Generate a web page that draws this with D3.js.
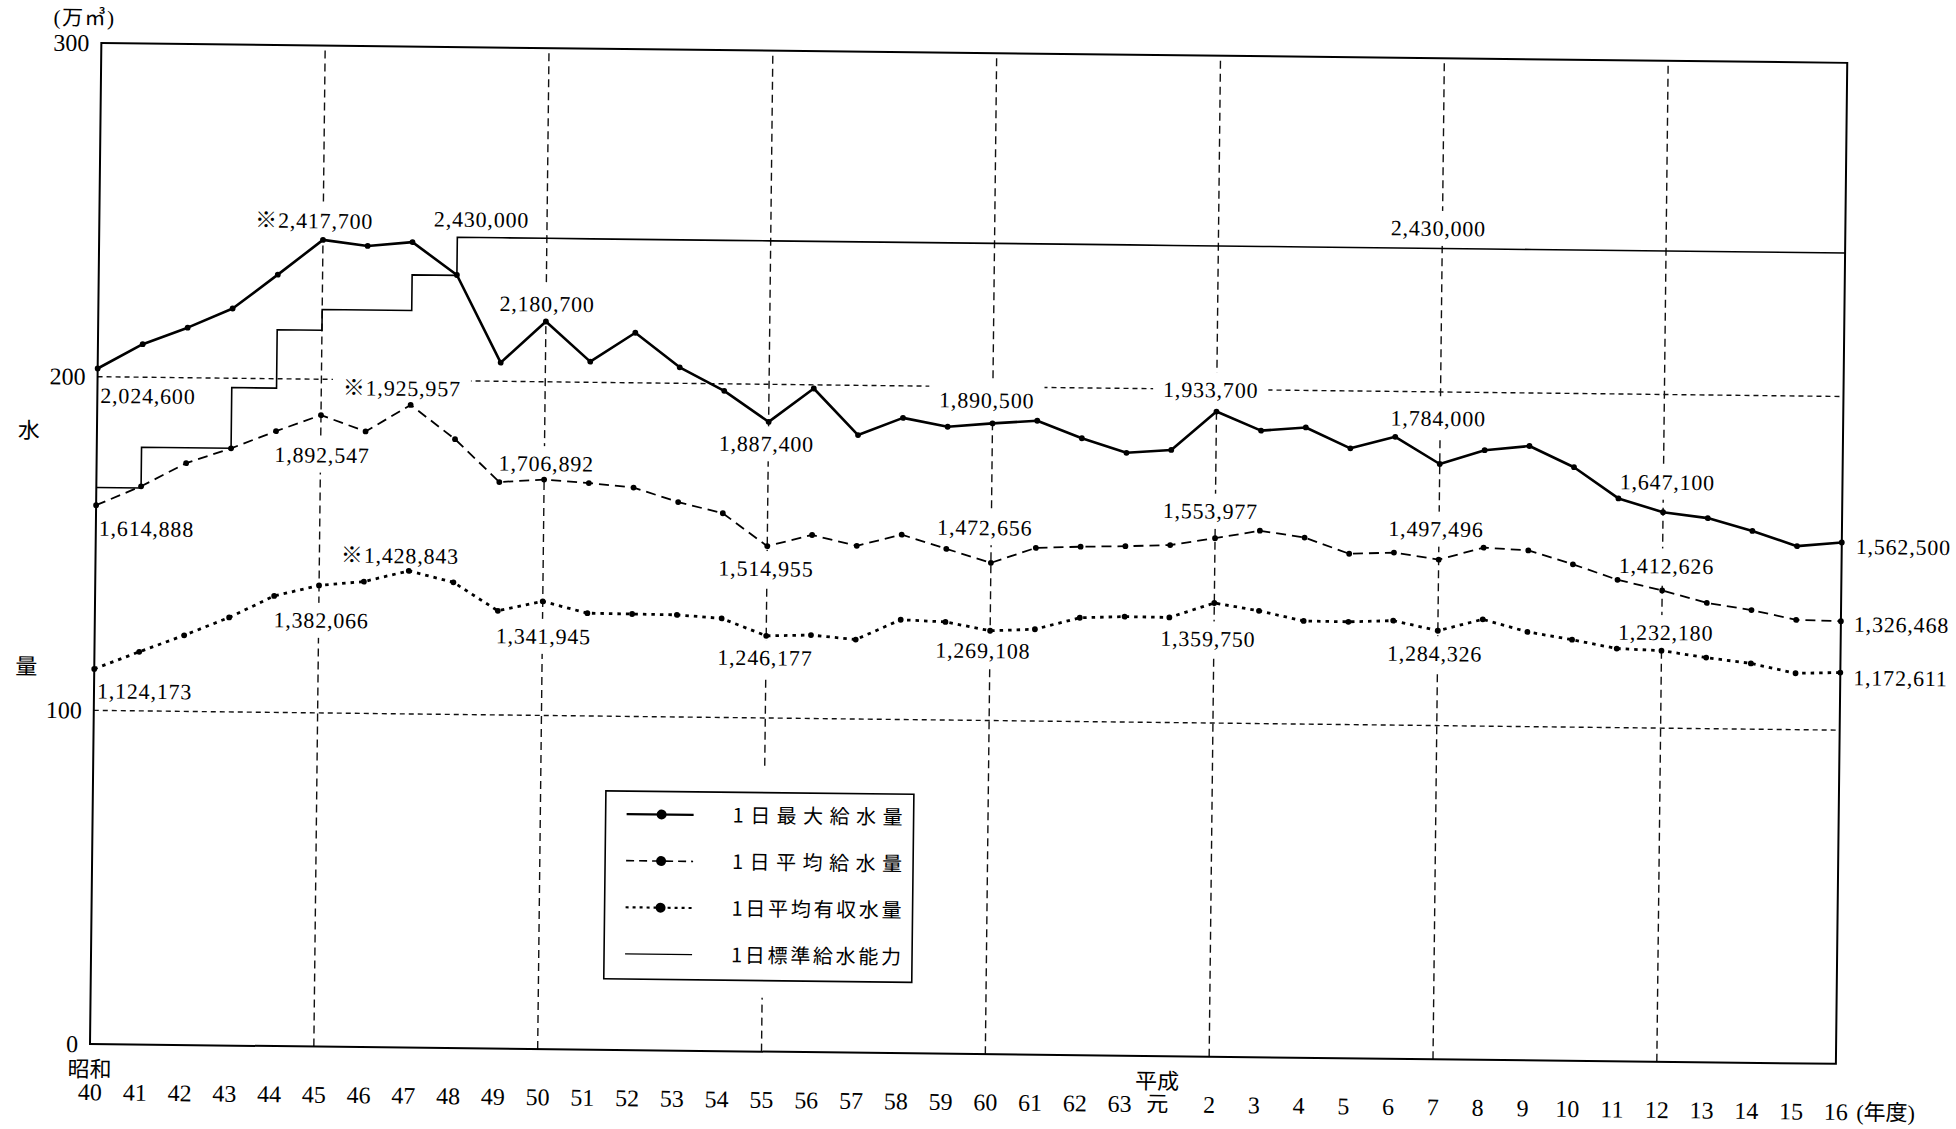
<!DOCTYPE html>
<html>
<head>
<meta charset="utf-8">
<script src="https://cdn.jsdelivr.net/npm/d3@7"></script>
<style>
  html, body { margin: 0; padding: 0; background: #fff; }
  svg { display: block; }
</style>
</head>
<body>
<svg id="chart" width="1956" height="1129"></svg>
<script>
// ---------------- DATA ----------------
const years = ["40","41","42","43","44","45","46","47","48","49",
               "50","51","52","53","54","55","56","57","58","59",
               "60","61","62","63","元","2","3","4","5","6",
               "7","8","9","10","11","12","13","14","15","16"];
const eras = [{year: "40", text: "昭和"}, {year: "元", text: "平成"}];
const yTicks = [0, 100, 200, 300];
const gridValues = [100, 200];
const gridYears = ["45", "50", "55", "60", "2", "7", "12"];

// 万㎥ per day
const maxSupply = [202.46, 209.9, 215.0, 220.9, 231.2, 241.77, 240.1, 241.4, 231.7, 205.6,
                   218.07, 206.2, 215.0, 204.8, 197.9, 188.74, 198.9, 185.1, 190.4, 187.9,
                   189.05, 190.0, 184.9, 180.7, 181.7, 193.37, 187.8, 188.9, 182.8, 186.4,
                   178.40, 182.7, 184.1, 177.9, 168.7, 164.71, 163.1, 159.4, 155.0, 156.25];
const avgSupply = [161.49, 167.3, 174.4, 179.0, 184.3, 189.25, 184.5, 192.60, 182.5, 169.8,
                   170.69, 169.8, 168.6, 164.4, 161.2, 151.50, 155.0, 151.9, 155.4, 151.3,
                   147.27, 151.9, 152.4, 152.7, 153.2, 155.40, 157.8, 155.9, 151.2, 151.7,
                   149.75, 153.5, 152.8, 148.8, 144.3, 141.26, 137.7, 135.7, 132.9, 132.65];
const avgRevenue = [112.42, 117.7, 122.8, 128.3, 134.9, 138.21, 139.5, 142.88, 139.6, 131.2,
                    134.19, 130.8, 130.7, 130.6, 129.7, 124.62, 125.0, 123.8, 129.9, 129.4,
                    126.91, 127.5, 131.1, 131.6, 131.5, 135.98, 133.8, 130.9, 130.8, 131.3,
                    128.43, 132.0, 128.4, 126.2, 123.7, 123.22, 121.3, 119.7, 116.9, 117.26];
const capacity = [166.8, 179.0, 179.0, 197.2, 214.7, 220.9, 220.9, 231.6, 243, 243,
                  243, 243, 243, 243, 243, 243, 243, 243, 243, 243,
                  243, 243, 243, 243, 243, 243, 243, 243, 243, 243,
                  243, 243, 243, 243, 243, 243, 243, 243, 243, 243];

// annotated values (㎥)
const maxLabels = [{year:"40", value:2024600}, {year:"45", value:2417700, mark:"※"}, {year:"50", value:2180700},
                   {year:"55", value:1887400}, {year:"60", value:1890500}, {year:"2", value:1933700},
                   {year:"7", value:1784000}, {year:"12", value:1647100}, {year:"16", value:1562500}];
const avgLabels = [{year:"40", value:1614888}, {year:"45", value:1892547}, {year:"47", value:1925957, mark:"※"},
                   {year:"50", value:1706892}, {year:"55", value:1514955}, {year:"60", value:1472656},
                   {year:"2", value:1553977}, {year:"7", value:1497496}, {year:"12", value:1412626},
                   {year:"16", value:1326468}];
const revLabels = [{year:"40", value:1124173}, {year:"45", value:1382066}, {year:"47", value:1428843, mark:"※"},
                   {year:"50", value:1341945}, {year:"55", value:1246177}, {year:"60", value:1269108},
                   {year:"2", value:1359750}, {year:"7", value:1284326}, {year:"12", value:1232180},
                   {year:"16", value:1172611}];
const capLabels = [{year:"48", value:2430000}, {year:"7", value:2430000}];

const legendItems = ["1日最大給水量", "1日平均給水量", "1日平均有収水量", "1日標準給水能力"];
const unitText = "(万㎥)";
const yTitle = ["水", "量"];
const xUnitText = "(年度)";

// ---------------- LAYOUT / STYLE ----------------
const W = 1956, H = 1129;
const M = {left: 90, right: 1836, top: 43, bottom: 1044};
const ROT = 0.65;
const NUM_FONT = '"Liberation Serif", "DejaVu Serif", serif';
const MIX_FONT = '"Liberation Serif", "Noto Sans CJK JP", "Noto Sans CJK SC", serif';
const CJK_FONT = '"Noto Sans CJK JP", "Noto Sans CJK SC", sans-serif';

// label placement: [anchor, dx, dy] relative to the point
const layout = {
  max: {"40":["start",3,27], "45":["middle",-9,-19], "50":["middle",1,-17.5], "55":["middle",-2,22],
        "60":["middle",-6,-23], "2":["middle",-6,-21.5], "7":["middle",-2,-45.5], "12":["middle",4,-30],
        "16":["start",14,4]},
  avg: {"40":["start",3,23], "45":["middle",1.5,40], "47":["middle",-9,-16.5], "50":["middle",2,-16],
        "55":["middle",-1,22.5], "60":["middle",-6.5,-35], "2":["middle",-5,-27], "7":["middle",-3,-30.5],
        "12":["middle",4,-24.5], "16":["start",13,3]},
  rev: {"40":["start",3,22], "45":["middle",2.5,35], "47":["middle",-9,-15], "50":["middle",1,35],
        "55":["middle",-1,22], "60":["middle",-7,20], "2":["middle",-6,36], "7":["middle",-3,23],
        "12":["middle",4,-18], "16":["start",13,5]},
  cap: {"48":["middle",24,-18], "7":["middle",-4,-20]}
};

const styles = {
  max: {width: 2.6, dash: null},
  avg: {width: 1.8, dash: "10,6"},
  rev: {width: 2.8, dash: "3.5,5"},
  cap: {width: 1.6, dash: null}
};

// ---------------- DRAW ----------------
const svg = d3.select("#chart");
svg.append("rect").attr("width", W).attr("height", H).attr("fill", "#fff");
const g = svg.append("g").attr("transform", `rotate(${ROT},${M.left},${M.bottom})`);

const x = d3.scalePoint().domain(years).range([M.left, M.right]);
const y = d3.scaleLinear().domain([0, 300]).range([M.bottom, M.top]);

// grid
const gGrid = g.append("g");
gGrid.selectAll("line.gh").data(gridValues).join("line").attr("class", "gh")
  .attr("x1", M.left).attr("x2", M.right).attr("y1", d => y(d)).attr("y2", d => y(d))
  .attr("stroke", "#111").attr("stroke-width", 1.4).attr("stroke-dasharray", "5,4");
gGrid.selectAll("line.gv").data(gridYears).join("line").attr("class", "gv")
  .attr("x1", d => x(d)).attr("x2", d => x(d)).attr("y1", M.bottom).attr("y2", M.top)
  .attr("stroke", "#111").attr("stroke-width", 1.4).attr("stroke-dasharray", "8,5");

const gMask = g.append("g");

// frame
g.append("rect").attr("x", M.left).attr("y", M.top)
  .attr("width", M.right - M.left).attr("height", M.bottom - M.top)
  .attr("fill", "none").attr("stroke", "#000").attr("stroke-width", 2);

// axes
const yAxis = d3.axisLeft(y).tickValues(yTicks).tickSize(0).tickPadding(12).tickFormat(d3.format("d"));
const gy = g.append("g").attr("transform", `translate(${M.left},0)`).call(yAxis);
gy.select(".domain").remove();
gy.selectAll("text").style("font-family", NUM_FONT).style("font-size", "24px").attr("fill", "#000");

const xAxis = d3.axisBottom(x).tickSize(0);
const gx = g.append("g").attr("transform", `translate(0,${M.bottom})`).call(xAxis);
gx.select(".domain").remove();
gx.selectAll("text")
  .attr("x", d => d === "元" ? -7 : 0)
  .attr("y", 48).attr("dy", "0.34em")
  .style("font-family", MIX_FONT)
  .style("font-size", d => d === "元" ? "22px" : "24px")
  .attr("fill", "#000");

g.selectAll("text.era").data(eras).join("text").attr("class", "era")
  .attr("x", d => x(d.year) + (d.year === "元" ? -7 : 0)).attr("y", M.bottom + 25).attr("dy", "0.36em")
  .attr("text-anchor", "middle").style("font-family", MIX_FONT).style("font-size", "22px")
  .text(d => d.text);

g.append("text").attr("x", x(years[years.length - 1]) + 21).attr("y", M.bottom + 48).attr("dy", "0.36em")
  .style("font-family", MIX_FONT).style("font-size", "22px").text(xUnitText);

g.append("text").attr("x", 42).attr("y", 17.5).attr("dy", "0.36em")
  .style("font-family", MIX_FONT).style("font-size", "21px").style("letter-spacing", "1.5px").text(unitText);

g.selectAll("text.ytitle").data(yTitle).join("text").attr("class", "ytitle")
  .attr("x", 22).attr("y", (d, i) => i === 0 ? 431 : 667).attr("dy", "0.36em")
  .attr("text-anchor", "middle").style("font-family", MIX_FONT).style("font-size", "22px")
  .text(d => d);

// series
const line = d3.line().x((d, i) => x(years[i])).y(d => y(d));
const stepLine = d3.line().x((d, i) => x(years[i])).y(d => y(d)).curve(d3.curveStepAfter);
const gLines = g.append("g").attr("fill", "none").attr("stroke", "#000");

gLines.append("path").datum(capacity).attr("d", stepLine)
  .attr("stroke-width", styles.cap.width);

const series = [
  {key: "max", values: maxSupply, labels: maxLabels},
  {key: "avg", values: avgSupply, labels: avgLabels},
  {key: "rev", values: avgRevenue, labels: revLabels}
];
series.forEach(s => {
  gLines.append("path").datum(s.values).attr("d", line)
    .attr("stroke-width", styles[s.key].width)
    .attr("stroke-dasharray", styles[s.key].dash)
    .attr("stroke-linejoin", "round");
  g.append("g").selectAll("circle").data(s.values).join("circle")
    .attr("cx", (d, i) => x(years[i])).attr("cy", d => y(d)).attr("r", 2.9).attr("fill", "#000");
});

// value labels
const fmt = d3.format(",");
const gLabels = g.append("g");
function addLabels(key, labels, values) {
  labels.forEach(l => {
    const i = years.indexOf(l.year);
    const [anchor, dx, dy] = layout[key][l.year];
    const px = x(l.year) + dx;
    const py = y(values[i]) + dy;
    const t = gLabels.append("text")
      .attr("x", px).attr("y", py).attr("dy", "0.34em")
      .attr("text-anchor", anchor)
      .style("font-family", MIX_FONT).style("font-size", "22px")
      .style("letter-spacing", "0.8px")
      .text((l.mark || "") + fmt(l.value));
    const b = t.node().getBBox();
    gMask.append("rect").attr("x", b.x - 10).attr("y", b.y - 5)
      .attr("width", b.width + 20).attr("height", b.height + 10).attr("fill", "#fff");
  });
}
addLabels("max", maxLabels, maxSupply);
addLabels("avg", avgLabels, avgSupply);
addLabels("rev", revLabels, avgRevenue);
addLabels("cap", capLabels, capacity);

// legend
const L = {x: 603, y: 785, w: 308, h: 188, row0: 23, rowStep: 46.6,
           lx1: 21, lx2: 88, mx: 56, tx: 127, tw: 170};
gMask.append("rect").attr("x", L.x - 20).attr("y", L.y - 25)
  .attr("width", L.w + 40).attr("height", L.h + 42).attr("fill", "#fff");
const gLeg = g.append("g");
gLeg.append("rect").attr("x", L.x).attr("y", L.y).attr("width", L.w).attr("height", L.h)
  .attr("fill", "#fff").attr("stroke", "#000").attr("stroke-width", 1.6);
const legStyles = [
  {width: 2.2, dash: null, marker: true},
  {width: 1.6, dash: "8,5", marker: true},
  {width: 2.2, dash: "3,4", marker: true},
  {width: 1.4, dash: null, marker: false}
];
legendItems.forEach((txt, i) => {
  const ry = L.y + L.row0 + i * L.rowStep;
  const st = legStyles[i];
  gLeg.append("line").attr("x1", L.x + L.lx1).attr("x2", L.x + L.lx2).attr("y1", ry).attr("y2", ry)
    .attr("stroke", "#000").attr("stroke-width", st.width).attr("stroke-dasharray", st.dash);
  if (st.marker) {
    gLeg.append("circle").attr("cx", L.x + L.mx).attr("cy", ry).attr("r", 5).attr("fill", "#000");
  }
  gLeg.append("text").attr("x", L.x + L.tx).attr("y", ry).attr("dy", "0.36em")
    .attr("textLength", L.tw).attr("lengthAdjust", "spacing")
    .style("font-family", CJK_FONT).style("font-size", "20px").text(txt);
});
</script>
</body>
</html>
